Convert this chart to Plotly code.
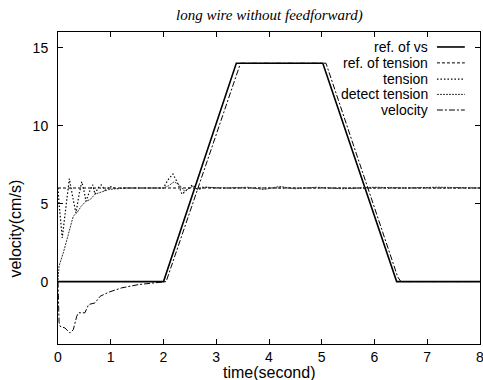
import plotly.graph_objects as go

# ---------------- data ----------------
ref_vs_t = [0, 2.0, 3.38, 5.02, 6.42, 8]
ref_vs_v = [0, 0, 14, 14, 0, 0]

ref_tension_t = [0, 8]
ref_tension_v = [6, 6]

tension_t = [0, 0.02, 0.08, 0.15, 0.215, 0.28, 0.34, 0.40, 0.45, 0.50, 0.53, 0.60, 0.66, 0.70, 0.76,
             0.82, 0.89, 0.99, 1.1, 1.3, 2.0, 2.08, 2.18, 2.27, 2.35, 2.45, 2.55, 2.65, 2.75, 3.0, 8]
tension_v = [6.0, 5.0, 2.8, 4.9, 6.6, 5.4, 4.4, 5.6, 6.4, 5.7, 5.15, 5.8, 6.2, 5.6, 6.0,
             6.2, 5.85, 6.1, 5.95, 6.0, 6.0, 6.5, 6.9, 6.3, 5.6, 5.9, 6.2, 5.9, 6.05, 6.0, 6.0]

detect_t = [0, 0.02, 0.1, 0.165, 0.23, 0.29, 0.355, 0.44, 0.53, 0.61, 0.70, 0.83, 0.96, 1.21, 1.6,
            2.0, 2.1, 2.2, 2.3, 2.4, 2.55, 2.65, 2.8, 3.2, 3.6, 3.9, 4.2, 4.5, 4.9, 5.4, 6.0, 6.6, 7.2, 8]
detect_v = [0.1, 1.0, 1.84, 2.6, 3.44, 4.2, 4.4, 4.83, 5.15, 5.26, 5.6, 5.73, 5.9, 6.0, 6.0,
            6.0, 6.15, 6.4, 6.2, 5.8, 6.1, 5.9, 6.05, 6.0, 6.05, 5.9, 6.1, 5.95, 6.05, 5.95, 6.05, 6.0, 6.05, 6.0]

velocity_t = [0, 0.02, 0.04, 0.13, 0.23, 0.29, 0.355, 0.39, 0.51, 0.58, 0.70, 0.80, 0.96, 1.21, 1.53,
              1.84, 2.05, 3.46, 5.08, 6.44, 6.5, 8]
velocity_v = [0, -2.6, -2.87, -2.97, -3.3, -3.08, -2.22, -2.0, -2.0, -1.47, -1.37, -0.94, -0.68, -0.4, -0.19,
              -0.05, 0, 14, 14, 0.3, 0, 0]

series_names = ["ref. of vs", "ref. of tension", "tension", "detect tension", "velocity"]

# ---------------- styles ----------------
styles = [
    dict(color="black", width=1.6, dash="solid"),
    dict(color="black", width=1, dash="3px,2px"),
    dict(color="black", width=1.2, dash="1.5px,2px"),
    dict(color="#333333", width=1, dash="2px,1px"),
    dict(color="black", width=1, dash="6px,2px,2px,2px"),
]

series = [
    (ref_vs_t, ref_vs_v),
    (ref_tension_t, ref_tension_v),
    (tension_t, tension_v),
    (detect_t, detect_v),
    (velocity_t, velocity_v),
]

fig = go.Figure()
for (t, v), name, st in zip(series, series_names, styles):
    fig.add_trace(go.Scatter(x=t, y=v, mode="lines", name=name, line=st, showlegend=False))

tick_font = dict(family="Liberation Sans, Arial, sans-serif", size=14, color="black")
leg_font = dict(family="Liberation Sans, Arial, sans-serif", size=14, color="black")
title_font = dict(family="Liberation Sans, Arial, sans-serif", size=16, color="black")

axis_common = dict(
    showline=True, linecolor="black", linewidth=1, mirror="ticks",
    ticks="inside", ticklen=5, tickcolor="black", tickwidth=1,
    showgrid=False, zeroline=False, tickfont=tick_font, ticklabeloverflow="allow",
    automargin=False,
)

fig.update_xaxes(range=[0, 8], tickvals=[0, 1, 2, 3, 4, 5, 6, 7, 8], **axis_common)
fig.update_yaxes(range=[-4, 16], tickvals=[0, 5, 10, 15], ticklabelstandoff=6, **axis_common)

# legend drawn as text left of the line sample (gnuplot style)
leg_y = [0.952, 0.901, 0.849, 0.800, 0.750]
for name, st, yy in zip(series_names, styles, leg_y):
    fig.add_annotation(x=0.882, y=yy, xref="paper", yref="paper", text=name, showarrow=False,
                       xanchor="right", yanchor="middle", font=leg_font)
    fig.add_shape(type="line", xref="paper", yref="paper", x0=0.898, x1=0.964, y0=yy, y1=yy,
                  line=st)

fig.add_annotation(x=0.5, y=1.0, xref="paper", yref="paper", yshift=17,
                   text="<i>long wire without feedforward)</i>", showarrow=False,
                   xanchor="center", yanchor="middle",
                   font=dict(family="Liberation Serif, Times New Roman, serif", size=15, color="black"))
fig.add_annotation(x=0.5, y=0, xref="paper", yref="paper", yshift=-28,
                   text="time(second)", showarrow=False, xanchor="center", yanchor="middle",
                   font=title_font)
fig.add_annotation(x=0, y=0.37, xref="paper", yref="paper", xshift=-42,
                   text="velocity(cm/s)", showarrow=False, textangle=-90,
                   xanchor="center", yanchor="middle", font=title_font)

fig.update_layout(
    width=483, height=380,
    margin=dict(l=58, r=3, t=32, b=36),
    paper_bgcolor="white", plot_bgcolor="white",
    showlegend=False,
)

fig.write_html("out.html")
